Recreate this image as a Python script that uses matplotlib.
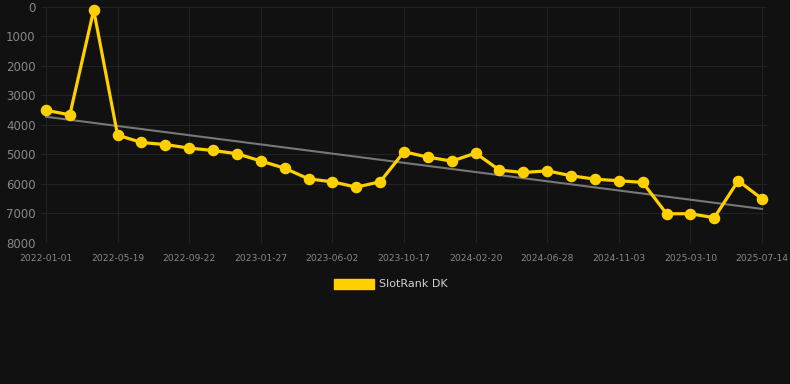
import numpy as np
import matplotlib
matplotlib.use("Agg")
import matplotlib.pyplot as plt
from matplotlib.patches import Patch

# SlotRank DK rank per snapshot (lower on chart = worse rank)
ranks = [3510, 3665, 120, 4350, 4600, 4670, 4790, 4870, 4980, 5225,
         5470, 5830, 5930, 6110, 5930, 4915, 5095, 5230, 4960, 5535,
         5615, 5560, 5725, 5840, 5895, 5950, 7010, 7010, 7145, 5895,
         6505]
tick_labels = ["2022-01-01", "2022-05-19", "2022-09-22", "2023-01-27",
               "2023-06-02", "2023-10-17", "2024-02-20", "2024-06-28",
               "2024-11-03", "2025-03-10", "2025-07-14"]
y_ticks = [0, 1000, 2000, 3000, 4000, 5000, 6000, 7000, 8000]

BG = "#111111"
GOLD = "#ffd000"

x = np.arange(len(ranks))
slope, intercept = np.polyfit(x, ranks, 1)
trend = slope * x + intercept

fig = plt.figure(figsize=(7.9, 3.84), dpi=100, facecolor=BG)
ax = fig.add_axes([41.2 / 790, 1 - 243 / 384, 725.6 / 790, 236.5 / 384])
ax.set_facecolor(BG)

ax.plot(x, trend, color="#777777", linewidth=1.5, zorder=2)
ax.plot(x, ranks, color=GOLD, linewidth=2.3, marker="o", markersize=7.3,
        zorder=3, clip_on=False)

ax.set_xlim(-0.2, len(ranks) - 0.8)
ax.set_ylim(8000, 0)
ax.set_yticks(y_ticks)
ax.set_xticks(x[::3])
ax.set_xticklabels(tick_labels)

ax.tick_params(axis="y", labelsize=8.5, length=0, pad=4)
ax.tick_params(axis="x", labelsize=6.6, length=0, pad=8)
for lbl in ax.get_yticklabels() + ax.get_xticklabels():
    lbl.set_color("#888888")
ax.grid(True, color="#222222", linewidth=0.8, zorder=0)
for s in ax.spines.values():
    s.set_visible(False)

handle = Patch(facecolor=GOLD, edgecolor=GOLD)
fig.legend([handle], ["SlotRank DK"], loc="center", bbox_to_anchor=(391 / 790, 1 - 284 / 384),
           frameon=False, fontsize=8, labelcolor="#d0d0d0",
           handlelength=3.6, handleheight=1.0, handletextpad=0.5)

fig.savefig("out.png", dpi=100, facecolor=BG)
